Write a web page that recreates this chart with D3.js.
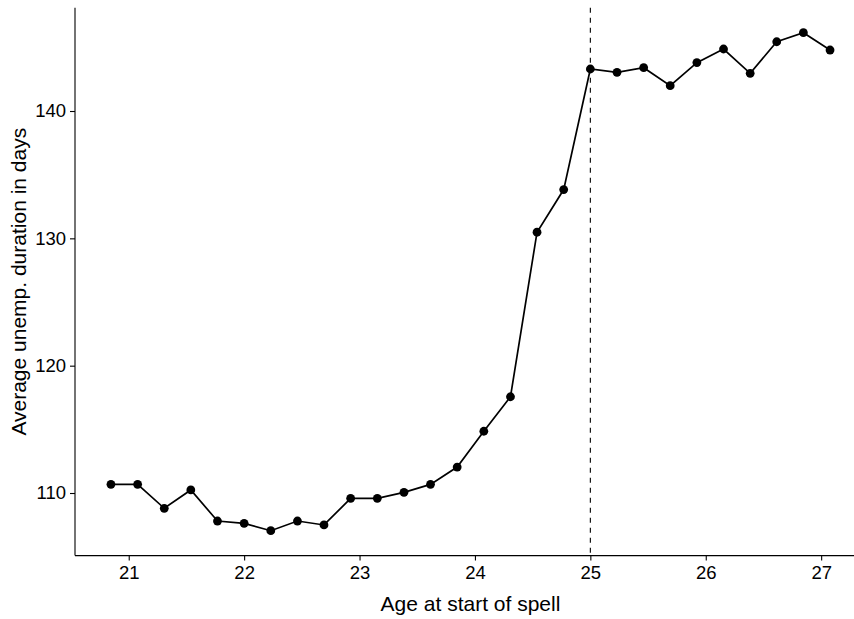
<!DOCTYPE html>
<html>
<head>
<meta charset="utf-8">
<script src="https://cdn.jsdelivr.net/npm/d3@7"></script>
<style>
  html, body { margin: 0; padding: 0; background: #fff; }
  svg { display: block; font-family: "Liberation Sans", Arial, sans-serif; }
</style>
</head>
<body>
<svg id="chart" width="854" height="619"></svg>
<script>
// ---- data ----
const ages = [20.846, 21.077, 21.308, 21.538, 21.769, 22.0, 22.231, 22.462, 22.692, 22.923,
              23.154, 23.385, 23.615, 23.846, 24.077, 24.308, 24.538, 24.769, 25.0, 25.231,
              25.462, 25.692, 25.923, 26.154, 26.385, 26.615, 26.846, 27.077];
const durations = [110.68, 110.68, 108.80, 110.24, 107.80, 107.62, 107.04, 107.80, 107.49, 109.58,
                   109.58, 110.05, 110.68, 112.04, 114.85, 117.56, 130.48, 133.83, 143.30, 143.04,
                   143.40, 141.99, 143.80, 144.87, 142.96, 145.44, 146.15, 144.79];
const xTicks = [21, 22, 23, 24, 25, 26, 27];
const yTicks = [110, 120, 130, 140];
const cutoff = [25];
const xTitle = "Age at start of spell";
const yTitle = "Average unemp. duration in days";

// ---- layout ----
const svg = d3.select("#chart");
const W = 854, H = 619;
const pLeft = 75, pRight = 866, pTop = 7.8, pBottom = 555.6;

function expand(ext) { const r = ext[1] - ext[0]; return [ext[0] - 0.05 * r, ext[1] + 0.05 * r]; }
const x = d3.scaleLinear().domain(expand(d3.extent(ages))).range([pLeft, pRight]);
const y = d3.scaleLinear().domain(expand(d3.extent(durations))).range([pBottom, pTop]);

const data = ages.map((a, i) => ({ a, d: durations[i] }));

svg.append("defs").append("clipPath").attr("id", "c")
  .append("rect").attr("x", 0).attr("y", 0).attr("width", W).attr("height", H);

const g = svg.append("g").attr("clip-path", "url(#c)");

// dashed cutoff line
g.selectAll("line.cut").data(cutoff).enter().append("line")
  .attr("class", "cut")
  .attr("x1", d => x(d)).attr("x2", d => x(d))
  .attr("y1", pTop).attr("y2", pBottom)
  .attr("stroke", "#000").attr("stroke-width", 1.1)
  .attr("stroke-dasharray", "5,5");

// line
g.append("path").datum(data)
  .attr("fill", "none").attr("stroke", "#000").attr("stroke-width", 1.7)
  .attr("d", d3.line().x(d => x(d.a)).y(d => y(d.d)));

// points
g.selectAll("circle").data(data).enter().append("circle")
  .attr("cx", d => x(d.a)).attr("cy", d => y(d.d)).attr("r", 4.4)
  .attr("fill", "#000");

// axes
const xAxis = d3.axisBottom(x).tickValues(xTicks).tickSize(5).tickPadding(5).tickFormat(d3.format("d"));
const yAxis = d3.axisLeft(y).tickValues(yTicks).tickSize(5).tickPadding(4).tickFormat(d3.format("d"));

const gx = g.append("g").attr("transform", `translate(0,${pBottom})`).call(xAxis);
const gy = g.append("g").attr("transform", `translate(${pLeft},0)`).call(yAxis);

[gx, gy].forEach(ax => {
  ax.select(".domain").remove();
  ax.selectAll(".tick line").attr("stroke", "#000").attr("stroke-width", 1.1);
  ax.selectAll(".tick text").attr("fill", "#000").attr("font-size", 18.5)
    .attr("font-family", "'Liberation Sans', Arial, sans-serif");
});
gx.selectAll(".tick text").attr("dy", "0.71em");

// axis lines
g.append("line").attr("x1", pLeft).attr("x2", pRight).attr("y1", pBottom).attr("y2", pBottom)
  .attr("stroke", "#000").attr("stroke-width", 1.1);
g.append("line").attr("x1", pLeft).attr("x2", pLeft).attr("y1", pTop).attr("y2", pBottom)
  .attr("stroke", "#000").attr("stroke-width", 1.1);

// titles
svg.append("text").attr("x", (pLeft + pRight) / 2).attr("y", 611)
  .attr("text-anchor", "middle").attr("font-size", 21).attr("fill", "#000")
  .text(xTitle);
svg.append("text")
  .attr("transform", `translate(26,${(pTop + pBottom) / 2}) rotate(-90)`)
  .attr("text-anchor", "middle").attr("font-size", 21).attr("fill", "#000")
  .text(yTitle);
</script>
</body>
</html>
